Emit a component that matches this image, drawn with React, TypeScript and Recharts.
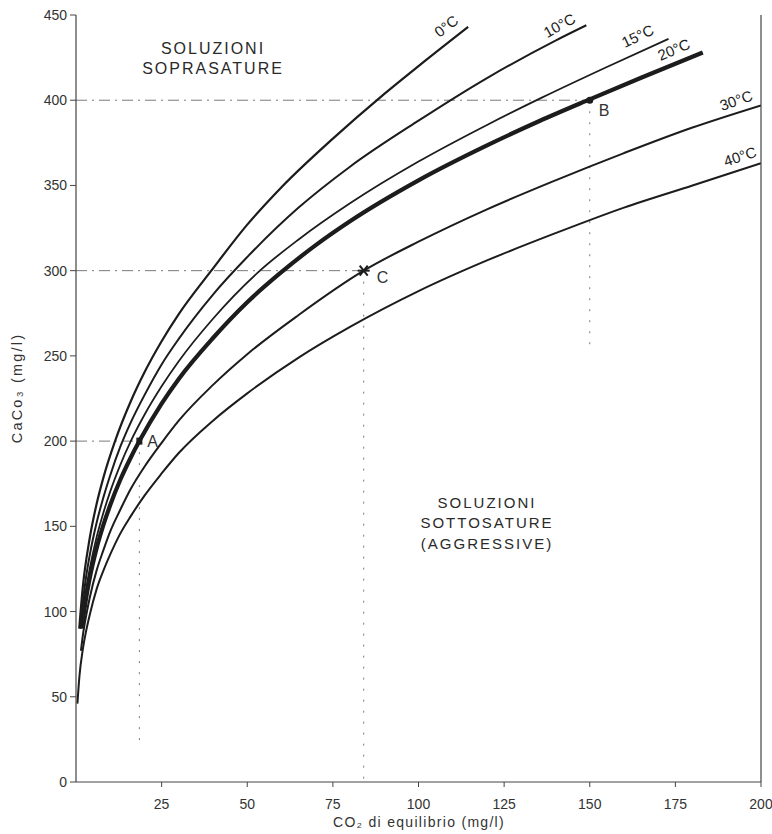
import React from 'react';
import { LineChart, Line, XAxis, YAxis, ReferenceLine, ReferenceDot } from 'recharts';

// ---- data ----
const temperatures = ['0°C', '10°C', '15°C', '20°C', '30°C', '40°C'];

const co2At0C = [0.94, 2, 4, 6, 8, 11.4, 16, 20, 25, 30, 39.5, 50, 60, 75, 89, 100, 114.5];
const caco3At0C = [90, 114.6, 143, 163, 178.6, 200, 223.4, 240.4, 258.6, 274.5, 300, 327, 349, 377.5, 402, 420, 443];

const co2At10C = [1.24, 2, 3, 4, 6, 8, 10, 13, 16, 20, 25, 30, 40, 50, 65, 80, 100, 120, 140, 149];
const caco3At10C = [90, 105.5, 121, 133, 152, 167, 180, 197, 211, 227, 245, 260, 286, 308, 337, 361, 388, 413, 435, 444];

const co2At15C = [1.51, 2, 3, 4, 6, 8, 10, 13, 16, 20, 25, 30, 40, 53.7, 65, 80, 100, 120, 136, 155, 173];
const caco3At15C = [90, 99, 113.5, 125, 143.5, 158, 170.5, 186.4, 200, 215.5, 232.2, 246.9, 271.8, 300, 318.3, 339.5, 364, 385.5, 401.5, 419.5, 436];

const co2At20C = [1.72, 2, 3, 4, 6, 8, 10, 13, 16, 18.5, 25, 30, 40, 50, 59.6, 70, 80, 100, 120, 135, 150, 165, 183];
const caco3At20C = [90, 94.7, 108.5, 119.5, 137, 150.8, 162.5, 177.6, 190.4, 200, 222, 236.5, 260.5, 281.5, 298.5, 315, 329, 353, 373.5, 387.5, 400.5, 413.2, 428];

const co2At30C = [1.45, 2, 3, 4, 6, 8, 10, 13, 16, 20, 25, 30, 40, 50, 65, 84, 100, 120, 140, 160, 180, 200];
const caco3At30C = [77, 86, 98, 108, 124, 136, 147, 160, 172, 185, 199, 212, 233, 251, 274, 300, 317, 336, 353, 369, 384, 397];

const co2At40C = [0.41, 1, 2, 3, 4, 6, 8, 10, 13, 16, 20, 25, 30, 40, 50, 65, 80, 100, 120, 140, 160, 180, 200];
const caco3At40C = [46, 62, 78, 89, 98, 113, 124, 133.5, 146, 156, 168, 181, 193, 212, 228, 249, 267, 288, 306, 322, 337, 350, 363];

const pointNames = ['A', 'B', 'C'];
const pointCO2 = [18.5, 150, 84];
const pointCaCO3 = [200, 400, 300];
const guideBottom = [20, 255, 0];

const yTicks = [0, 50, 100, 150, 200, 250, 300, 350, 400, 450];
const xTicks = [25, 50, 75, 100, 125, 150, 175, 200];

const regionTopLines = ['SOLUZIONI', 'SOPRASATURE'];
const regionBottomLines = ['SOLUZIONI', 'SOTTOSATURE', '(AGGRESSIVE)'];

// ---- styling ----
const FONT = '"Liberation Sans", Arial, Helvetica, sans-serif';
const INK = '#1c1c1c';
const GUIDE = '#7a7a7a';

const toRows = (xs: number[], ys: number[]) => xs.map((x, i) => ({ x, y: ys[i] }));

const curveSeries = [
  { xs: co2At0C, ys: caco3At0C, width: 2.2, lab: { dx: -22, dy: -1, rot: -38 } },
  { xs: co2At10C, ys: caco3At10C, width: 2.0, lab: { dx: -27, dy: 0, rot: -29 } },
  { xs: co2At15C, ys: caco3At15C, width: 1.8, lab: { dx: -31, dy: -3, rot: -25 } },
  { xs: co2At20C, ys: caco3At20C, width: 4.2, lab: { dx: -29, dy: -3, rot: -23 } },
  { xs: co2At30C, ys: caco3At30C, width: 2.0, lab: { dx: -25, dy: -5, rot: -19 } },
  { xs: co2At40C, ys: caco3At40C, width: 2.0, lab: { dx: -21, dy: -7, rot: -18 } },
];

const pointStyles = [
  { kind: 'square', dx: 8, dy: 6 },
  { kind: 'dot', dx: 9, dy: 16 },
  { kind: 'star', dx: 13, dy: 12 },
];

const makeCurveLabel = (text: string, dx: number, dy: number, rot: number) => (p: any) => {
  const x = p.cx + dx;
  const y = p.cy + dy;
  return (
    <text
      x={x}
      y={y}
      transform={`rotate(${rot} ${x} ${y})`}
      textAnchor="middle"
      dominantBaseline="central"
      fontFamily={FONT}
      fontSize={15}
      fill={INK}
    >
      {text}
    </text>
  );
};

const makeMarker = (name: string, st: { kind: string; dx: number; dy: number }) => (p: any) => {
  const { cx, cy } = p;
  let mark: React.ReactNode = null;
  if (st.kind === 'square') {
    mark = <rect x={cx - 3} y={cy - 3.5} width={6} height={7} fill={INK} />;
  } else if (st.kind === 'dot') {
    mark = <circle cx={cx} cy={cy} r={3.5} fill={INK} />;
  } else {
    mark = (
      <g stroke={INK} strokeWidth={2}>
        <line x1={cx - 6} y1={cy} x2={cx + 6} y2={cy} />
        <line x1={cx - 4} y1={cy - 5} x2={cx + 4} y2={cy + 5} />
        <line x1={cx - 4} y1={cy + 5} x2={cx + 4} y2={cy - 5} />
      </g>
    );
  }
  return (
    <g>
      {mark}
      <text x={cx + st.dx} y={cy + st.dy} fontFamily={FONT} fontSize={16} fill="#333">
        {name}
      </text>
    </g>
  );
};

const makeRegionText = (lines: string[], fontSize: number, gap: number) => (p: any) => {
  const { cx, cy } = p;
  return (
    <text
      x={cx}
      y={cy}
      textAnchor="middle"
      fontFamily={FONT}
      fontSize={fontSize}
      letterSpacing={2}
      fill="#2a2a2a"
    >
      {lines.map((l, i) => (
        <tspan key={i} x={cx} y={cy + i * gap}>
          {l}
        </tspan>
      ))}
    </text>
  );
};

const yTitle = () => (
  <text
    x={22}
    y={388}
    transform="rotate(-90 22 388)"
    textAnchor="middle"
    fontFamily={FONT}
    fontSize={14.5}
    letterSpacing={2.2}
    fill="#333"
  >
    CaCo₃ (mg/l)
  </text>
);

const xTitle = () => (
  <text x={419} y={827} textAnchor="middle" fontFamily={FONT} fontSize={14} fill="#333" letterSpacing={1.3}>
    CO₂ di equilibrio (mg/l)
  </text>
);

export default function App() {
  return (
    <div style={{ position: 'absolute', left: 0, top: 0, width: 772, height: 834, background: '#fff' }}>
      <LineChart width={772} height={834} margin={{ top: 15, right: 0, bottom: 0, left: 0 }}>
        <XAxis
          dataKey="x"
          type="number"
          domain={[0, 200]}
          ticks={xTicks}
          allowDataOverflow
          height={52}
          tickSize={5}
          tickMargin={12}
          axisLine={{ stroke: '#444', strokeWidth: 1.2 }}
          tickLine={{ stroke: '#444' }}
          tick={{ fontFamily: FONT, fontSize: 14, fill: '#333' }}
          label={{ content: xTitle }}
        />
        <YAxis
          type="number"
          domain={[0, 450]}
          ticks={yTicks}
          allowDataOverflow
          width={76}
          tickSize={6}
          tickMargin={3}
          axisLine={{ stroke: '#444', strokeWidth: 1.2 }}
          tickLine={{ stroke: '#444' }}
          tick={{ fontFamily: FONT, fontSize: 14, fill: '#333' }}
          label={{ content: yTitle }}
        />
        <YAxis
          yAxisId="right"
          orientation="right"
          type="number"
          domain={[0, 450]}
          ticks={yTicks}
          width={11}
          tickSize={6}
          tickFormatter={() => ''}
          axisLine={{ stroke: '#444', strokeWidth: 1.2 }}
          tickLine={{ stroke: '#444' }}
        />

        {pointNames.map((n, i) => (
          <ReferenceLine
            key={'h' + n}
            segment={[
              { x: 0, y: pointCaCO3[i] },
              { x: pointCO2[i], y: pointCaCO3[i] },
            ]}
            stroke={GUIDE}
            strokeWidth={1}
            strokeDasharray="11 5 2 5"
          />
        ))}
        {pointNames.map((n, i) => (
          <ReferenceLine
            key={'v' + n}
            segment={[
              { x: pointCO2[i], y: pointCaCO3[i] },
              { x: pointCO2[i], y: guideBottom[i] },
            ]}
            stroke={GUIDE}
            strokeWidth={1}
            strokeDasharray="2 9"
          />
        ))}

        {curveSeries.map((c, i) => (
          <Line
            key={temperatures[i]}
            data={toRows(c.xs, c.ys)}
            dataKey="y"
            type="monotone"
            stroke={INK}
            strokeWidth={c.width}
            dot={false}
            activeDot={false}
            isAnimationActive={false}
          />
        ))}

        {curveSeries.map((c, i) => (
          <ReferenceDot
            key={'lab' + temperatures[i]}
            x={c.xs[c.xs.length - 1]}
            y={c.ys[c.ys.length - 1]}
            r={1}
            ifOverflow="visible"
            shape={makeCurveLabel(temperatures[i], c.lab.dx, c.lab.dy, c.lab.rot)}
          />
        ))}

        {pointNames.map((n, i) => (
          <ReferenceDot
            key={'pt' + n}
            x={pointCO2[i]}
            y={pointCaCO3[i]}
            r={3}
            ifOverflow="visible"
            shape={makeMarker(n, pointStyles[i])}
          />
        ))}

        <ReferenceDot x={40} y={427} r={1} shape={makeRegionText(regionTopLines, 16, 20)} />
        <ReferenceDot x={120} y={161} r={1} shape={makeRegionText(regionBottomLines, 15, 20.5)} />
      </LineChart>
    </div>
  );
}
